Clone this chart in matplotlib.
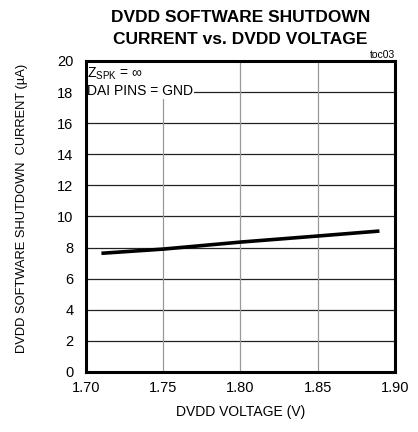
import matplotlib
matplotlib.use("Agg")
import matplotlib.pyplot as plt

plt.rcParams['font.family'] = ['Liberation Sans', 'DejaVu Sans']

voltage = [1.71, 1.75, 1.80, 1.85, 1.89]
current = [7.63, 7.90, 8.35, 8.74, 9.06]
xticks = [1.70, 1.75, 1.80, 1.85, 1.90]
yticks = [0, 2, 4, 6, 8, 10, 12, 14, 16, 18, 20]

fig = plt.figure(figsize=(4.18, 4.32), dpi=100)
ax = fig.add_axes([0.2057, 0.139, 0.739, 0.72])
ax.set_xlim(1.70, 1.90)
ax.set_ylim(0, 20)
ax.set_xticks(xticks)
ax.set_xticklabels([f"{v:.2f}" for v in xticks])
ax.set_yticks(yticks)
ax.tick_params(axis='x', length=0, labelsize=10.5, pad=6.5)
ax.tick_params(axis='y', length=0, labelsize=10.5, pad=9)
for t in yticks:
    ax.axhline(t, color='#222222', lw=0.9, zorder=1)
for t in xticks:
    ax.axvline(t, color='#999999', lw=0.9, zorder=1)
for s in ax.spines.values():
    s.set_linewidth(2.2)
    s.set_zorder(5)

ax.plot(voltage, current, color='black', lw=2.6, zorder=4, solid_capstyle='butt')

ax.text(0.004, 0.985, r"Z$_{\mathregular{SPK}}$ = ∞" + "\nDAI PINS = GND", transform=ax.transAxes,
        ha='left', va='top', fontsize=10, linespacing=1.2,
        bbox=dict(facecolor='white', edgecolor='none', pad=0.5), zorder=3)

ax.set_xlabel("DVDD VOLTAGE (V)", fontsize=10)
ax.xaxis.set_label_coords(0.5, -0.105)
ax.set_ylabel("DVDD SOFTWARE SHUTDOWN  CURRENT (µA)", fontsize=9.3)
ax.yaxis.set_label_coords(-0.188, 0.527)
fig.text(0.575, 0.977, "DVDD SOFTWARE SHUTDOWN\nCURRENT vs. DVDD VOLTAGE", ha='center', va='top',
         fontsize=12.5, fontweight='bold', linespacing=1.6)
fig.text(0.945, 0.862, "toc03", ha='right', va='bottom', fontsize=7.5)

fig.savefig("out.png", dpi=100)
